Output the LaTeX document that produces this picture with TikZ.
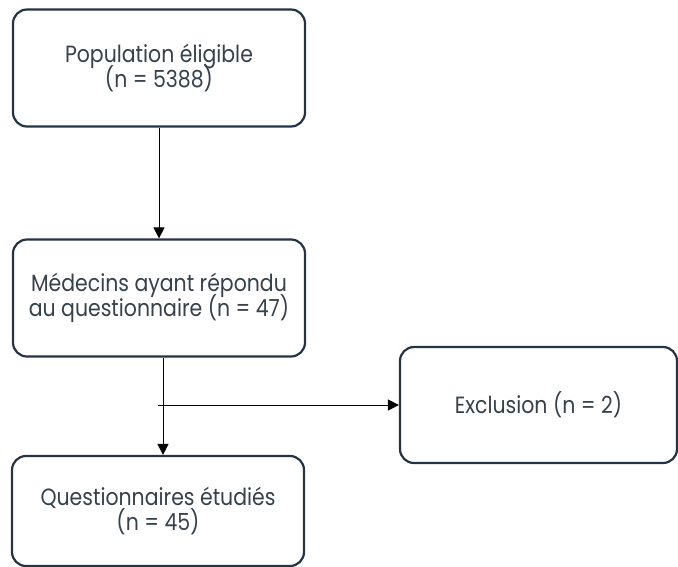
\documentclass[tikz,border=0pt]{standalone}
\usepackage{fontspec}
\setmainfont[FakeStretch=0.87]{Poppins}
\usetikzlibrary{arrows.meta,positioning}
\definecolor{boxline}{HTML}{243447}
\definecolor{boxtext}{HTML}{36414C}
\newcommand\flowfont{\fontsize{23.5}{24.5}\selectfont\lineskiplimit=-30pt\relax}

\begin{document}
\begin{tikzpicture}
  [x=1pt, y=-1pt,
   every node/.style={shape=rectangle, align=center, text=boxtext, font=\flowfont},
   flowbox/.style={draw=boxline, line width=2.2pt, rounded corners=14pt, fill=white,
                   minimum width=292pt, minimum height=117pt, inner sep=0pt},
   flowarrow/.style={draw=black, line width=1pt, -{Triangle[length=11pt,width=11pt]}}]
  \useasboundingbox (0,0) rectangle (678,566);
  \node[flowbox] (eligible) at (159,68) {Population éligible\\(n = 5388)};
  \node[flowbox] (repondu) at (159,298) {Médecins ayant répondu\\au questionnaire (n = 47)};
  \node[flowbox, minimum height=110pt] (etudies) at (158,511) {Questionnaires étudiés\\(n = 45)};
  \node[flowbox, minimum width=277pt, minimum height=116pt] (exclusion) at (538.5,405) {Exclusion (n = 2)};
  \coordinate (branch) at (158,405);
  \draw[flowarrow] (eligible.south) -- (repondu.north);
  \draw[flowarrow] (repondu.south -| 163,0) -- (etudies.north -| 163,0);
  \draw[flowarrow] (branch) -- (exclusion.west);
\end{tikzpicture}
\end{document}
